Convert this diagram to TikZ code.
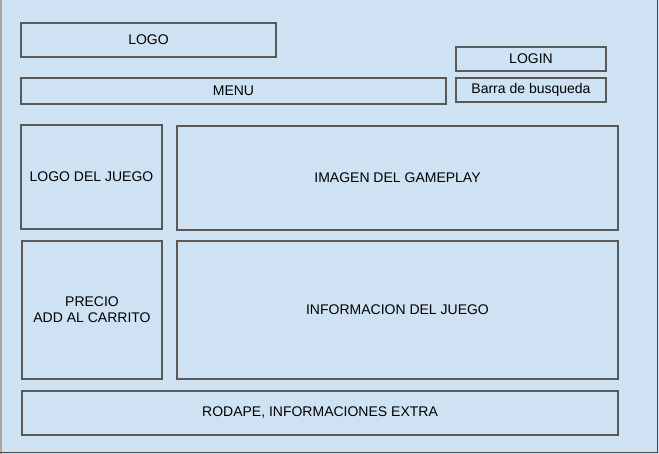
\documentclass[tikz,border=0pt]{standalone}
\usepackage{fontspec}
\setmainfont{Liberation Sans}
\definecolor{fondo}{HTML}{CFE2F3}
\definecolor{borde}{HTML}{595959}
\tikzset{
    caja/.style 2 args={draw=borde, line width=1.1pt, fill=fondo, inner sep=0pt,
        minimum width=#1pt, minimum height=#2pt, align=center,
        font=\fontsize{14}{16}\selectfont}
}

\begin{document}
\begin{tikzpicture}[x=1pt,y=-1pt]
    \useasboundingbox (0,0) rectangle (659,454);
    % fondo de la pagina
    \fill[fondo] (0,0) rectangle (659,454);
    \draw[gray!70, line width=1.5pt] (0.75,0) -- (0.75,454);
    \draw[borde!80!black, line width=1.5pt] (657.5,0) -- (657.5,452.5) -- (0,452.5);

    % cabecera
    \node[caja={255}{34}] (logo) at (148.5,40) {LOGO};
    \node[caja={150}{24}] (login) at (531,59) {LOGIN};
    \node[caja={425}{26}] (menu) at (233.5,91) {MENU};
    \node[caja={150}{24}] (barra) at (531,90) {Barra de busqueda};

    % contenido
    \node[caja={141}{104}] (logojuego) at (91.5,177) {LOGO DEL JUEGO};
    \node[caja={441}{104}] (imagen) at (397.5,178) {IMAGEN DEL GAMEPLAY};
    \node[caja={140}{138}] (precio) at (92,310) {PRECIO\\ADD AL CARRITO};
    \node[caja={441}{138}] (info) at (397.5,310) {INFORMACION DEL JUEGO};

    % pie
    \node[caja={596}{44}] (rodape) at (320,413) {RODAPE, INFORMACIONES EXTRA};
\end{tikzpicture}
\end{document}
